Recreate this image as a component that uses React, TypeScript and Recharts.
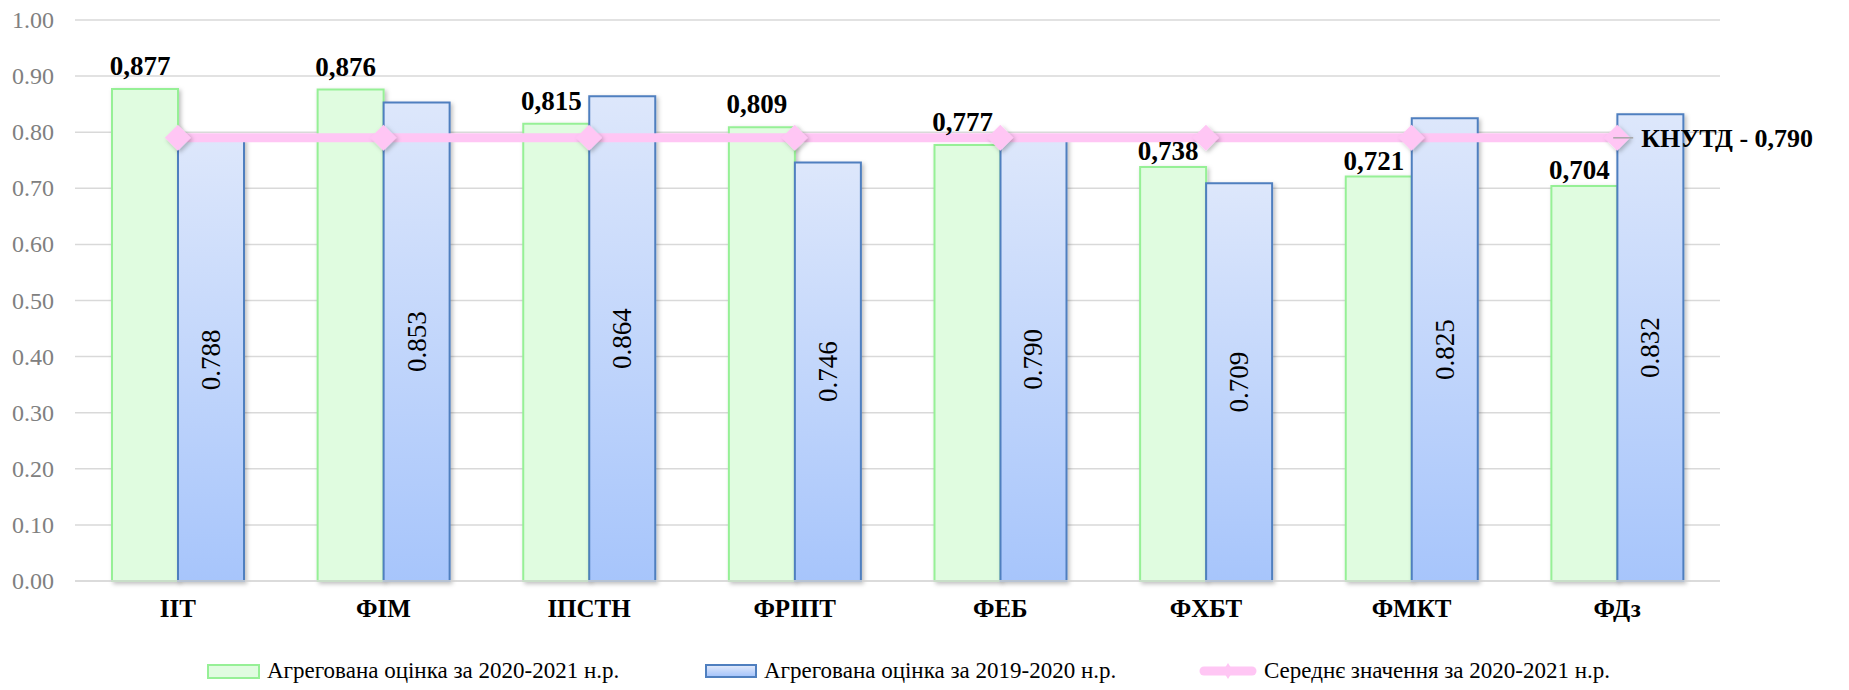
import {
  ComposedChart,
  Bar,
  Line,
  XAxis,
  YAxis,
  CartesianGrid,
  Legend,
  LabelList,
} from "recharts";

const faculties = ["ІІТ", "ФІМ", "ІПСТН", "ФРІПТ", "ФЕБ", "ФХБТ", "ФМКТ", "ФДз"];
const score2021 = [0.877, 0.876, 0.815, 0.809, 0.777, 0.738, 0.721, 0.704];
const score2020 = [0.788, 0.853, 0.864, 0.746, 0.79, 0.709, 0.825, 0.832];
const average2021 = [0.79, 0.79, 0.79, 0.79, 0.79, 0.79, 0.79, 0.79];
const yTicks = [0, 0.1, 0.2, 0.3, 0.4, 0.5, 0.6, 0.7, 0.8, 0.9, 1.0];
const seriesNames = [
  "Агрегована оцінка за 2020-2021 н.р.",
  "Агрегована оцінка за 2019-2020 н.р.",
  "Середнє значення за 2020-2021 н.р.",
];
const totalLabel = "КНУТД";

const data = faculties.map((name, i) => ({
  name,
  cur: score2021[i],
  prev: score2020[i],
  avg: average2021[i],
}));

const FONT = "'Liberation Serif', serif";
const GREEN_FILL = "#e0fce0";
const GREEN_STROKE = "#96f096";
const BLUE_STROKE = "#4f7fbf";
const PINK = "#ffc6f4";

const comma = (v: number) => v.toFixed(3).replace(".", ",");

const GreenLabel = (props: any) => {
  const { x, y, width, value } = props;
  // labels under the average line sit a bit closer to the bar
  const lift = value >= 0.77 ? 14 : 7;
  return (
    <text
      x={x + width / 2 - 5}
      y={y - lift}
      textAnchor="middle"
      style={{ fontFamily: FONT, fontSize: 27, fontWeight: 700 }}
      fill="#000"
    >
      {comma(value)}
    </text>
  );
};

const BlueLabel = (props: any) => {
  const { x, y, width, height, value } = props;
  const cx = x + width / 2;
  const cy = y + height / 2;
  return (
    <text
      x={cx}
      y={cy + 9}
      transform={`rotate(-90 ${cx} ${cy})`}
      textAnchor="middle"
      style={{ fontFamily: FONT, fontSize: 27, fontWeight: 400 }}
      fill="#000"
    >
      {Number(value).toFixed(3)}
    </text>
  );
};

const CategoryTick = (props: any) => {
  const { x, y, payload } = props;
  return (
    <text
      x={x}
      y={y + 14}
      textAnchor="middle"
      style={{ fontFamily: FONT, fontSize: 25, fontWeight: 700 }}
      fill="#000"
    >
      {payload.value}
    </text>
  );
};

const ValueTick = (props: any) => {
  const { x, y, payload } = props;
  return (
    <text
      x={x}
      y={y + 8}
      textAnchor="end"
      style={{ fontFamily: FONT, fontSize: 24, fontWeight: 400 }}
      fill="#808080"
    >
      {Number(payload.value).toFixed(2)}
    </text>
  );
};

const AvgLabel = (props: any) => {
  const { x, y, value, index } = props;
  if (index !== faculties.length - 1) return null;
  return (
    <g>
      <line x1={x - 4} y1={y} x2={x + 16} y2={y} stroke="#a6a6a6" strokeWidth={1.5} />
      <text
        x={x + 24}
        y={y + 9}
        style={{ fontFamily: FONT, fontSize: 26, fontWeight: 700 }}
        fill="#000"
      >
        {`${totalLabel} - ${comma(value)}`}
      </text>
    </g>
  );
};

const Diamond = (props: any) => {
  const { cx, cy, index } = props;
  const r = 13;
  return (
    <path
      key={`d-${index}`}
      d={`M${cx},${cy - r} L${cx + r},${cy} L${cx},${cy + r} L${cx - r},${cy} Z`}
      fill={PINK}
      filter="url(#softShadow)"
    />
  );
};

const LegendContent = () => {
  const item = (icon: any, label: string, w: number) => (
    <div style={{ display: "flex", alignItems: "center", width: w }}>
      {icon}
      <span style={{ marginLeft: 7, whiteSpace: "nowrap" }}>{label}</span>
    </div>
  );
  return (
    <div
      style={{
        display: "flex",
        alignItems: "center",
        height: 30,
        paddingLeft: 199,
        fontFamily: FONT,
        fontSize: 23,
        color: "#000",
      }}
    >
      {item(
        <div
          style={{
            width: 49,
            height: 11,
            background: GREEN_FILL,
            border: `2px solid ${GREEN_STROKE}`,
          }}
        />,
        seriesNames[0],
        498
      )}
      {item(
        <div
          style={{
            width: 48,
            height: 10,
            background: "linear-gradient(#dde7fb, #a7c5fb)",
            border: `2px solid ${BLUE_STROKE}`,
          }}
        />,
        seriesNames[1],
        494
      )}
      {item(
        <svg width={58} height={20}>
          <line x1={5} y1={10} x2={53} y2={10} stroke={PINK} strokeWidth={9} strokeLinecap="round" />
          <path d="M29,2 L34,10 L29,18 L24,10 Z" fill={PINK} />
        </svg>,
        seriesNames[2],
        420
      )}
    </div>
  );
};

const App = () => {
  return (
    <div style={{ fontFamily: FONT }}>
      <ComposedChart
        width={1833}
        height={680}
        data={data}
        margin={{ top: 12, right: 121, left: 0, bottom: 2 }}
        barCategoryGap={37}
        barGap={0}
        style={{ fontFamily: FONT }}
      >
        <defs>
          <linearGradient id="blueGrad" x1="0" y1="0" x2="0" y2="1">
            <stop offset="0%" stopColor="#dde7fb" />
            <stop offset="100%" stopColor="#a7c5fb" />
          </linearGradient>
          <filter id="softShadow" x="-20%" y="-20%" width="140%" height="140%">
            <feDropShadow dx={2} dy={2} stdDeviation={2} floodColor="#000" floodOpacity={0.25} />
          </filter>
        </defs>
        <CartesianGrid vertical={false} stroke="#d9d9d9" strokeWidth={1.5} />
        <XAxis
          dataKey="name"
          axisLine={{ stroke: "#d9d9d9", strokeWidth: 1.5 }}
          tickLine={false}
          height={75}
          tickMargin={16}
          tick={<CategoryTick />}
        />
        <YAxis
          domain={[0, 1]}
          ticks={yTicks}
          width={67}
          axisLine={false}
          tickLine={false}
          tickMargin={15}
          tick={<ValueTick />}
        />
        <Legend
          verticalAlign="bottom"
          content={<LegendContent />}
          wrapperStyle={{ left: 0, width: 1833, height: 30 }}
        />
        <Bar
          dataKey="cur"
          name={seriesNames[0]}
          fill={GREEN_FILL}
          stroke={GREEN_STROKE}
          strokeWidth={2}
          filter="url(#softShadow)"
          isAnimationActive={false}
        >
          <LabelList dataKey="cur" content={<GreenLabel />} />
        </Bar>
        <Bar
          dataKey="prev"
          name={seriesNames[1]}
          fill="url(#blueGrad)"
          stroke={BLUE_STROKE}
          strokeWidth={2}
          filter="url(#softShadow)"
          isAnimationActive={false}
        >
          <LabelList dataKey="prev" content={<BlueLabel />} />
        </Bar>
        <Line
          dataKey="avg"
          name={seriesNames[2]}
          stroke={PINK}
          strokeWidth={9}
          dot={<Diamond />}
          activeDot={false}
          isAnimationActive={false}
        >
          <LabelList dataKey="avg" content={<AvgLabel />} />
        </Line>
      </ComposedChart>
    </div>
  );
};

export default App;
